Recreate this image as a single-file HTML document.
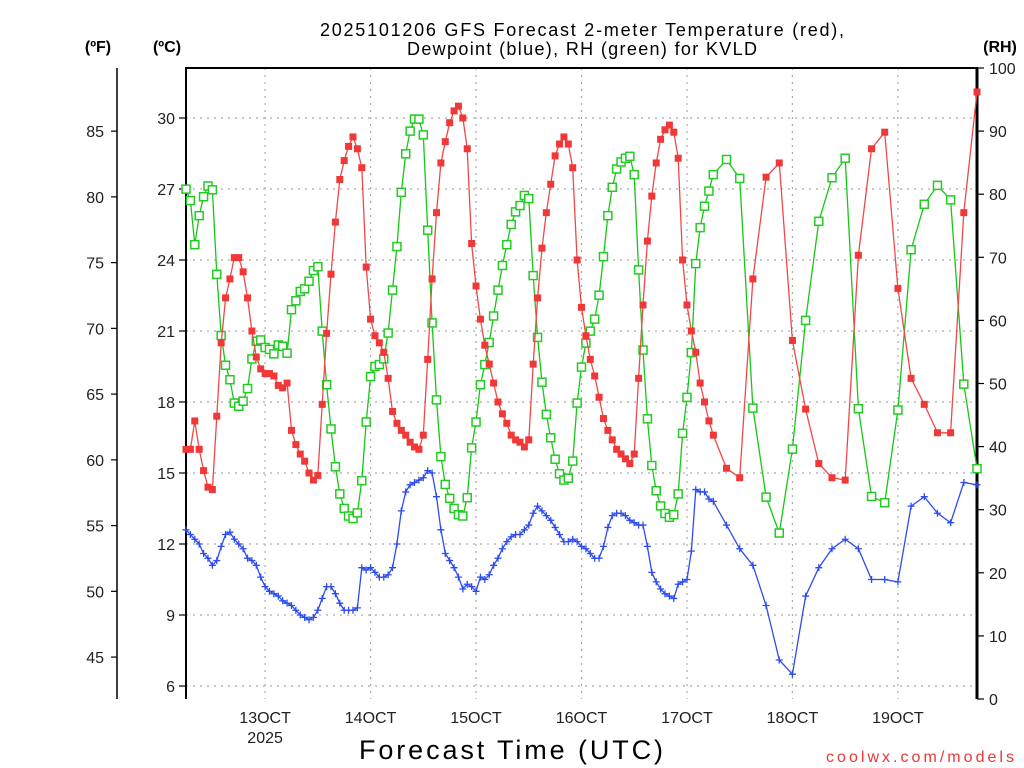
<!DOCTYPE html>
<html><head><meta charset="utf-8"><style>
html,body{margin:0;padding:0;background:#fff;}
svg{display:block;font-family:"Liberation Sans",sans-serif;}
</style></head><body>
<svg id="chart" width="1024" height="768" xmlns="http://www.w3.org/2000/svg">
<text x="582" y="36" text-anchor="middle" font-size="18" fill="#000" textLength="524" lengthAdjust="spacing">2025101206 GFS Forecast 2-meter Temperature (red),</text>
<text x="582" y="55" text-anchor="middle" font-size="18" fill="#000" textLength="350" lengthAdjust="spacing">Dewpoint (blue), RH (green) for KVLD</text>
<text x="98" y="52" text-anchor="middle" font-size="16" font-weight="bold">(ºF)</text>
<text x="167" y="52" text-anchor="middle" font-size="16" font-weight="bold">(ºC)</text>
<text x="1000" y="52" text-anchor="middle" font-size="16" font-weight="bold">(RH)</text>
<text x="511" y="759" text-anchor="middle" font-size="27" textLength="304" lengthAdjust="spacing">Forecast Time (UTC)</text>
<text x="1014" y="762" text-anchor="end" font-size="16" fill="#e83838" textLength="188" lengthAdjust="spacing">coolwx.com/models</text>
<g id="grid"></g><g id="axes"></g><g id="series"></g>
</svg>
<script>
// hours after 2025-10-12 06Z
const hours = [];
for (let h = 0; h <= 120; h++) hours.push(h);
for (let h = 123; h <= 180; h += 3) hours.push(h);
const tempC = [16.0,16.0,17.2,16.0,15.1,14.4,14.3,17.4,20.5,22.4,23.2,24.1,24.1,23.5,22.4,21.0,19.9,19.4,19.2,19.2,19.1,18.7,18.6,18.8,16.8,16.2,15.8,15.5,15.0,14.7,14.9,17.9,20.9,23.4,25.6,27.4,28.2,28.8,29.2,28.7,27.9,23.7,21.5,20.8,20.5,20.1,19.0,17.6,17.1,16.8,16.6,16.3,16.1,16.0,16.6,19.8,23.2,26.0,28.1,29.0,29.8,30.3,30.5,30.0,28.7,24.7,22.9,21.5,20.4,19.6,18.8,18.0,17.5,17.1,16.6,16.4,16.3,16.1,16.4,19.6,22.4,24.5,26.0,27.2,28.4,28.9,29.2,28.9,27.9,24.0,22.0,20.8,19.8,19.1,18.2,17.3,16.8,16.4,16.0,15.8,15.6,15.4,15.8,19.0,22.1,24.8,26.7,28.1,29.1,29.5,29.7,29.4,28.3,24.0,22.1,21.0,20.1,18.8,18.0,17.2,16.6,15.2,14.8,23.2,27.5,28.1,20.6,17.7,15.4,14.8,14.7,24.2,28.7,29.4,22.8,19.0,17.9,16.7,16.7,26.0,31.1];
const dewC = [12.6,12.4,12.2,12.0,11.6,11.4,11.1,11.3,11.9,12.4,12.5,12.2,12.0,11.8,11.4,11.3,11.1,10.6,10.2,10.0,9.9,9.8,9.6,9.5,9.4,9.2,9.0,8.9,8.8,8.9,9.2,9.7,10.2,10.2,9.9,9.5,9.2,9.2,9.2,9.3,11.0,10.9,11.0,10.8,10.6,10.6,10.7,11.0,12.0,13.4,14.2,14.5,14.6,14.7,14.8,15.1,15.0,14.0,12.6,11.6,11.3,11.0,10.6,10.1,10.3,10.2,10.0,10.6,10.5,10.7,11.1,11.4,11.8,12.1,12.3,12.4,12.4,12.6,12.8,13.3,13.6,13.4,13.2,13.0,12.7,12.4,12.1,12.1,12.2,12.1,11.9,11.8,11.6,11.4,11.4,11.9,12.7,13.2,13.3,13.3,13.2,13.0,12.9,12.8,12.8,11.9,10.8,10.4,10.1,9.9,9.8,9.7,10.3,10.4,10.5,11.7,14.3,14.2,14.2,13.9,13.8,12.8,11.8,11.1,9.4,7.1,6.5,9.8,11.0,11.8,12.2,11.8,10.5,10.5,10.4,13.6,14.0,13.3,12.9,14.6,14.5];
const rhPct = [80.8,79.0,72.0,76.6,79.6,81.3,80.7,67.3,57.6,52.9,50.6,46.9,46.4,47.2,49.2,53.9,56.7,56.9,55.7,55.4,54.7,56.1,55.9,54.8,61.7,63.1,64.6,65.0,66.2,67.9,68.5,58.3,49.8,42.8,36.8,32.5,30.2,29.0,28.6,29.5,34.6,43.9,51.1,52.7,53.0,53.9,58.0,64.8,71.7,80.3,86.4,90.0,91.9,91.9,89.4,74.3,59.6,47.4,38.4,34.0,31.8,30.2,29.2,29.0,31.9,39.8,43.9,49.8,53.0,56.5,60.7,64.8,68.7,72.0,75.2,77.2,78.2,79.8,79.3,67.1,57.3,50.2,45.1,41.4,38.0,35.7,34.7,35.0,37.7,46.9,52.6,56.4,58.3,60.2,64.0,70.1,76.6,81.1,84.0,85.1,85.7,86.0,83.1,68.0,55.3,44.4,37.0,33.0,30.6,29.4,28.8,29.2,32.5,42.1,47.8,54.9,69.0,74.7,78.1,80.5,83.1,85.5,82.5,46.1,32.0,26.3,39.6,60.0,75.7,82.6,85.7,46.0,32.1,31.1,45.8,71.2,78.4,81.4,79.1,49.9,36.5];
const cTicks = [6,9,12,15,18,21,24,27,30];
const fTicks = [45,50,55,60,65,70,75,80,85];
const rhTicks = [0,10,20,30,40,50,60,70,80,90,100];
const dayLabels = ["13OCT","14OCT","15OCT","16OCT","17OCT","18OCT","19OCT"];
const dayHours = [18,42,66,90,114,138,162];

const NS = "http://www.w3.org/2000/svg";
const X0 = 186, X1 = 977, Y0 = 68, Y1 = 699, HMAX = 180;
function xs(h){ return X0 + h * (X1 - X0) / HMAX; }
function yc(c){ return 686 - (c - 6) * 23.667; }
function yf(f){ return yc((f - 32) / 1.8); }
function yr(r){ return Y1 - r * (Y1 - Y0) / 100; }
function mk(tag, attrs, parent){
  const e = document.createElementNS(NS, tag);
  for (const k in attrs) e.setAttribute(k, attrs[k]);
  parent.appendChild(e);
  return e;
}
const grid = document.getElementById('grid');
const axes = document.getElementById('axes');
const series = document.getElementById('series');

cTicks.forEach(c => {
  const l = mk('line', {x1:X0, x2:X1, y1:yc(c), y2:yc(c), stroke:'#aaa', 'stroke-width':1.2, 'stroke-dasharray':'2,5'}, grid);
  
  
  mk('line', {x1:X0-7, x2:X0, y1:yc(c), y2:yc(c), stroke:'#000', 'stroke-width':1.2}, axes);
  const t = mk('text', {x:X0-11, y:yc(c)+6, 'text-anchor':'end', 'font-size':16, fill:'#222'}, axes);
  t.textContent = c;
  
  
});
dayHours.forEach((h, i) => {
  const l = mk('line', {x1:xs(h), x2:xs(h), y1:Y0, y2:Y1, stroke:'#aaa', 'stroke-width':1.2, 'stroke-dasharray':'2,5'}, grid);
  
  
  const t = mk('text', {x:xs(h), y:723, 'text-anchor':'middle', 'font-size':16, fill:'#222'}, axes);
  t.textContent = dayLabels[i];
  
  
});
const yr2 = mk('text', {x:xs(18), y:743, 'text-anchor':'middle', 'font-size':16, fill:'#222'}, axes);
yr2.textContent = '2025';



// F axis
mk('line', {x1:117, x2:117, y1:Y0, y2:Y1, stroke:'#000', 'stroke-width':1.5}, axes);
fTicks.forEach(f => {
  mk('line', {x1:111, x2:117, y1:yf(f), y2:yf(f), stroke:'#000', 'stroke-width':1.2}, axes);
  const t = mk('text', {x:104, y:yf(f)+6, 'text-anchor':'end', 'font-size':16, fill:'#222'}, axes);
  t.textContent = f;
  
  
});
// RH axis
rhTicks.forEach(r => {
  mk('line', {x1:X1, x2:X1+7, y1:yr(r), y2:yr(r), stroke:'#000', 'stroke-width':1.2}, axes);
  const t = mk('text', {x:989, y:yr(r)+6, 'text-anchor':'start', 'font-size':16, fill:'#222'}, axes);
  t.textContent = r;
  
  
});
// frame
const fr = mk('path', {d:`M${X0},${Y1} L${X0},${Y0} L${X1},${Y0} L${X1},${Y1}`, fill:'none', stroke:'#000', 'stroke-width':2}, axes);


mk('line', {x1:X1, x2:X1, y1:Y0, y2:Y1, stroke:'#000', 'stroke-width':3}, axes);

function drawLine(vals, yfn, color, name){
  const pts = vals.map((v, i) => xs(hours[i]).toFixed(1) + ',' + yfn(v).toFixed(1)).join(' ');
  const pl = mk('polyline', {points:pts, fill:'none', stroke:color, 'stroke-width':1.3}, series);
  
  
}
// RH
drawLine(rhPct, yr, '#16c816', 'rh-line');
rhPct.forEach((v, i) => {
  const r = mk('rect', {x:xs(hours[i])-4, y:yr(v)-4, width:8, height:8, fill:'#fff', stroke:'#22cc22', 'stroke-width':1.5}, series);
  
  
});
// Temp
drawLine(tempC, yc, '#f04848', 'temperature-line');
tempC.forEach((v, i) => {
  const r = mk('rect', {x:xs(hours[i])-3.5, y:yc(v)-3.5, width:7, height:7, fill:'#f03838'}, series);
  
  
});
// Dewpoint
drawLine(dewC, yc, '#2d4cf0', 'dewpoint-line');
dewC.forEach((v, i) => {
  const x = xs(hours[i]), y = yc(v);
  const p = mk('path', {d:`M${x-3.5},${y} H${x+3.5} M${x},${y-3.5} V${y+3.5}`, stroke:'#2d4cf0', 'stroke-width':1.3}, series);
  
  
});
</script>
</body></html>
